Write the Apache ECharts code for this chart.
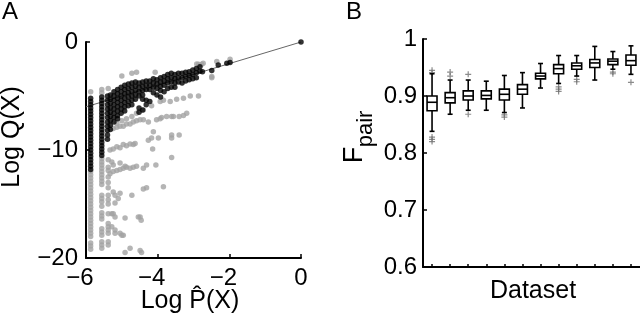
<!DOCTYPE html>
<html>
<head>
<meta charset="utf-8">
<script src="https://cdn.jsdelivr.net/npm/echarts@6/dist/echarts.min.js"></script>
<style>
html, body { margin: 0; padding: 0; background: #fff; }
#main { width: 640px; height: 318px; }
</style>
</head>
<body>
<div id="main"></div>
<script>
// ---- panel A: log Q(X) vs log P^(X) ----
var col1X = -5.87;
var col2X = -5.56;
var col1BlackY = [-5.2, -5.5, -5.8, -6.1, -6.4, -6.7, -7.0, -7.3, -7.6, -7.9, -8.2, -8.5, -8.8, -9.1, -9.4, -9.7, -10.0, -10.3, -10.6, -10.9, -11.2, -11.5, -11.8];
var col2BlackY = [-5.1, -5.4, -5.7, -6.0, -6.3, -6.6, -6.9, -7.2, -7.5, -7.8, -8.1, -8.4, -8.7, -9.0, -9.3, -9.6, -9.9, -10.2, -10.5];
var col1GrayY = [-4.6, -12.0, -12.3, -12.6, -12.9, -13.2, -13.5, -13.8, -14.1, -14.4, -14.7, -15.0, -15.3, -15.6, -15.9, -16.2, -16.5, -16.8, -17.1, -17.4, -17.7, -18.0, -18.6, -18.9, -19.2];
var col2GrayY = [-4.4, -4.7, -10.8, -11.1, -11.4, -11.7, -12.0, -12.3, -12.6, -12.9, -13.2, -14.2, -14.5, -14.8, -15.2, -15.8, -16.1, -16.4, -17.3, -17.6, -17.9, -18.5, -18.8, -19.1];

var blackPts = [
    [-5.40, -5.0], [-5.40, -5.4], [-5.40, -5.8], [-5.40, -6.2], [-5.40, -6.6], [-5.40, -7.0], [-5.40, -7.4], [-5.40, -7.8], [-5.40, -8.2], [-5.40, -8.6], [-5.40, -9.0],
    [-5.32, -4.9], [-5.32, -5.3], [-5.32, -5.7], [-5.32, -6.1], [-5.32, -6.5], [-5.32, -6.9], [-5.32, -7.3], [-5.32, -7.7], [-5.32, -8.1],
    [-5.22, -4.6], [-5.22, -5.0], [-5.22, -5.4], [-5.22, -5.8], [-5.22, -6.2], [-5.22, -6.6], [-5.22, -7.0], [-5.22, -7.4],
    [-5.12, -4.4], [-5.12, -4.8], [-5.12, -5.2], [-5.12, -5.6], [-5.12, -6.0], [-5.12, -6.4], [-5.12, -6.8], [-5.12, -7.1],
    [-5.02, -4.2], [-5.02, -4.6], [-5.02, -5.0], [-5.02, -5.4], [-5.02, -5.8], [-5.02, -6.2], [-5.02, -6.6],
    [-4.92, -4.0], [-4.92, -4.4], [-4.92, -4.8], [-4.92, -5.2], [-4.92, -5.6], [-4.92, -6.0], [-4.92, -6.4],
    [-4.82, -3.9], [-4.82, -4.3], [-4.82, -4.7], [-4.82, -5.1], [-4.82, -5.5], [-4.82, -5.9],
    [-4.72, -3.8], [-4.72, -4.2], [-4.72, -4.6], [-4.72, -5.0], [-4.72, -5.4], [-4.72, -5.8],
    [-4.62, -3.7], [-4.62, -4.1], [-4.62, -4.5], [-4.62, -4.9], [-4.62, -5.3],
    [-4.52, -3.8], [-4.52, -4.2], [-4.52, -4.6], [-4.52, -5.0], [-4.52, -6.1], [-4.52, -6.5],
    [-4.42, -3.7], [-4.42, -4.1], [-4.42, -4.5], [-4.42, -4.9], [-4.42, -5.3], [-4.42, -6.3],
    [-4.32, -3.6], [-4.32, -4.0], [-4.32, -4.4], [-4.32, -5.4], [-4.32, -5.8],
    [-4.22, -3.6], [-4.22, -4.0], [-4.22, -4.4], [-4.22, -5.5],
    [-4.12, -3.4], [-4.12, -3.8], [-4.12, -4.2], [-4.12, -4.7],
    [-4.02, -3.5], [-4.02, -3.9], [-4.02, -4.3], [-4.02, -4.9],
    [-3.92, -3.3], [-3.92, -3.7], [-3.92, -4.1], [-3.92, -4.5], [-3.92, -5.1],
    [-3.82, -3.2], [-3.82, -3.6], [-3.82, -4.0], [-3.82, -4.6],
    [-3.72, -3.0], [-3.72, -3.4], [-3.72, -3.8], [-3.72, -4.3],
    [-3.62, -2.9], [-3.62, -3.3], [-3.62, -3.7], [-3.62, -4.2],
    [-3.52, -3.0], [-3.52, -3.4], [-3.52, -3.8], [-3.52, -4.2],
    [-3.42, -2.9], [-3.42, -3.3], [-3.42, -3.7],
    [-3.32, -2.9], [-3.32, -3.3], [-3.32, -3.8],
    [-3.22, -2.8], [-3.22, -3.2], [-3.22, -3.6],
    [-3.12, -2.75], [-3.12, -3.1], [-3.12, -3.5],
    [-3.02, -2.6], [-3.02, -3.0], [-3.02, -3.4],
    [-2.92, -2.45], [-2.92, -2.85], [-2.92, -3.3],
    [-2.82, -2.3], [-2.82, -2.7],
    [-2.75, -2.75], [-2.49, -2.65], [-2.31, -2.13], [-2.07, -1.97], [-1.98, -1.9],
    [0, 0]
];

var grayPts = [
    // above the black band
    [-5.38, -4.3], [-5.0, -3.15], [-4.72, -2.9], [-4.59, -2.8], [-4.07, -2.8],
    [-2.91, -2.04], [-2.86, -2.07], [-2.77, -2.07], [-2.73, -1.97], [-2.35, -1.8], [-1.98, -1.6],
    [-2.49, -3.2], [-2.49, -3.3],
    // band just below the black band
    [-5.14, -7.5], [-5.0, -7.3], [-4.87, -7.1], [-4.72, -6.9], [-4.59, -6.6], [-4.40, -6.3], [-4.17, -5.9],
    [-3.93, -5.5], [-3.84, -5.4], [-3.65, -5.5], [-3.47, -5.3], [-3.28, -5.2], [-3.09, -5.0], [-2.86, -5.0],
    // second band
    [-5.24, -8.0], [-5.14, -7.9], [-5.05, -7.8], [-4.96, -7.8], [-4.87, -7.6], [-4.77, -7.6], [-4.68, -7.4],
    [-4.59, -7.3], [-4.49, -7.2], [-4.40, -7.2], [-4.26, -7.4], [-4.03, -7.2], [-3.93, -7.1], [-3.89, -7.0],
    [-3.75, -6.9], [-3.61, -6.9], [-3.56, -6.9], [-3.40, -6.9], [-3.28, -6.8], [-3.19, -6.6],
    [-4.12, -8.3], [-4.26, -9.1], [-3.98, -8.9], [-3.61, -8.6], [-3.61, -8.9], [-3.40, -8.6],
    [-4.14, -9.9], [-3.61, -10.7],
    // third band
    [-5.33, -10.0], [-5.24, -9.9], [-5.14, -9.7], [-5.05, -9.8], [-4.96, -9.5], [-4.87, -9.6],
    [-4.77, -9.45], [-4.68, -9.5], [-4.63, -9.4], [-4.17, -8.9],
    // fourth band
    [-5.33, -12.2], [-5.24, -12.0], [-5.14, -11.9], [-5.05, -11.8], [-4.96, -11.7], [-4.87, -11.6],
    [-4.77, -11.7], [-4.68, -11.6], [-4.59, -11.5], [-4.40, -11.7], [-4.31, -11.4], [-4.05, -11.4],
    [-5.28, -11.1], [-5.24, -11.4], [-5.05, -11.2], [-4.91, -11.5],
    [-3.84, -13.4], [-4.40, -13.6], [-4.31, -13.5],
    // lower bands
    [-5.24, -13.9], [-5.10, -14.5], [-5.19, -14.9], [-5.19, -14.2], [-5.05, -14.0], [-4.72, -14.2],
    [-5.28, -15.9], [-5.24, -15.9], [-5.19, -16.2], [-4.91, -16.3], [-4.54, -16.2], [-4.49, -16.2], [-4.46, -16.5],
    [-5.28, -17.1], [-5.19, -17.4], [-5.19, -17.7], [-5.05, -17.7], [-5.0, -17.9], [-4.96, -17.9],
    [-4.91, -19.5], [-4.77, -19.1], [-4.49, -19.3], [-4.45, -19.5],
    // third sub-column
    [-5.38, -10.9], [-5.38, -11.6], [-5.38, -11.9], [-5.38, -12.5], [-5.38, -13.0], [-5.38, -13.5],
    [-5.38, -14.2], [-5.38, -14.6], [-5.38, -15.0], [-5.38, -15.9], [-5.38, -16.8], [-5.38, -17.1],
    [-5.38, -17.4], [-5.38, -17.7], [-5.38, -18.5], [-5.38, -18.8]
];

// ---- panel B: F_pair per dataset ----
var datasets = ['1', '2', '3', '4', '5', '6', '7', '8', '9', '10', '11', '12'];
var boxLow = [0.838, 0.868, 0.875, 0.875, 0.871, 0.879, 0.914, 0.922, 0.935, 0.928, 0.947, 0.938];
var boxQ1 = [0.874, 0.888, 0.893, 0.895, 0.893, 0.903, 0.930, 0.939, 0.947, 0.950, 0.955, 0.954];
var boxMed = [0.889, 0.897, 0.900, 0.901, 0.903, 0.912, 0.935, 0.948, 0.953, 0.958, 0.961, 0.962];
var boxQ3 = [0.900, 0.906, 0.909, 0.909, 0.912, 0.920, 0.940, 0.955, 0.958, 0.964, 0.965, 0.972];
var boxHigh = [0.939, 0.928, 0.928, 0.926, 0.936, 0.941, 0.957, 0.971, 0.971, 0.987, 0.978, 0.988];
var outliers = [
    [0, 0.945], [0, 0.941], [0, 0.828], [0, 0.824], [0, 0.820],
    [1, 0.942], [1, 0.935],
    [2, 0.938], [2, 0.868],
    [4, 0.867], [4, 0.863],
    [7, 0.916], [7, 0.912], [7, 0.908],
    [8, 0.929], [8, 0.925],
    [10, 0.942], [10, 0.939],
    [11, 0.924]
];

var FONT = '"Liberation Sans", Arial, Helvetica, sans-serif';

var allBlack = [];
col1BlackY.forEach(function (y) { allBlack.push([col1X, y]); });
col2BlackY.forEach(function (y) { allBlack.push([col2X, y]); });
allBlack = allBlack.concat(blackPts);

var allGray = [];
col1GrayY.forEach(function (y) { allGray.push([col1X, y]); });
col2GrayY.forEach(function (y) { allGray.push([col2X, y]); });
allGray = allGray.concat(grayPts);

var boxData = datasets.map(function (d, i) {
    return [i, boxLow[i], boxQ1[i], boxMed[i], boxQ3[i], boxHigh[i]];
});

function minusLabel(v) {
    if (v < 0) {
        return '{n|\u2212' + Math.abs(v) + '}';
    }
    return String(v);
}

function renderBox(params, api) {
    var i = api.value(0);
    var lo = api.coord([i, api.value(1)]);
    var q1 = api.coord([i, api.value(2)]);
    var md = api.coord([i, api.value(3)]);
    var q3 = api.coord([i, api.value(4)]);
    var hi = api.coord([i, api.value(5)]);
    var bw = api.size([1, 0])[0] * 0.55;
    var cw = bw * 0.5;
    var x = lo[0];
    var st = { stroke: '#000', lineWidth: 1.6, fill: null };
    return {
        type: 'group',
        children: [
            { type: 'line', shape: { x1: x, y1: hi[1], x2: x, y2: q3[1] }, style: st },
            { type: 'line', shape: { x1: x, y1: q1[1], x2: x, y2: lo[1] }, style: st },
            { type: 'line', shape: { x1: x - cw / 2, y1: hi[1], x2: x + cw / 2, y2: hi[1] }, style: st },
            { type: 'line', shape: { x1: x - cw / 2, y1: lo[1], x2: x + cw / 2, y2: lo[1] }, style: st },
            { type: 'rect', shape: { x: x - bw / 2, y: q3[1], width: bw, height: q1[1] - q3[1] },
              style: { fill: '#fff', stroke: '#000', lineWidth: 1.6 } },
            { type: 'line', shape: { x1: x - bw / 2, y1: md[1], x2: x + bw / 2, y2: md[1] }, style: st }
        ]
    };
}

function axisLineStyle() {
    return { show: true, onZero: false, lineStyle: { color: '#000', width: 2 } };
}
function tickStyle(len) {
    return { show: true, inside: true, length: len, lineStyle: { color: '#000', width: 1.5 } };
}
var labelBase = { color: '#000', fontFamily: FONT, fontSize: 24 };

var option = {
    animation: false,
    backgroundColor: '#fff',
    grid: [
        { left: 86, top: 42, width: 215, height: 216 },
        { left: 423, top: 39, width: 217, height: 228 }
    ],
    xAxis: [{
        gridIndex: 0,
        type: 'value',
        min: -6,
        max: 0,
        interval: 2,
        axisLine: axisLineStyle(),
        axisTick: tickStyle(4),
        splitLine: { show: false },
        axisLabel: Object.assign({}, labelBase, {
            margin: 8,
            formatter: minusLabel,
            rich: { n: { fontFamily: FONT, fontSize: 24, color: '#000', padding: [0, 12, 0, 0] } }
        })
    }, {
        gridIndex: 1,
        type: 'category',
        data: datasets,
        boundaryGap: true,
        axisLine: axisLineStyle(),
        axisTick: { show: true, inside: true, length: 3, alignWithLabel: true, interval: 0, lineStyle: { color: '#000', width: 1.5 } },
        axisLabel: { show: false, interval: 0 },
        splitLine: { show: false }
    }],
    yAxis: [{
        gridIndex: 0,
        type: 'value',
        min: -20,
        max: 0,
        interval: 10,
        axisLine: axisLineStyle(),
        axisTick: tickStyle(4),
        splitLine: { show: false },
        axisLabel: Object.assign({}, labelBase, {
            margin: 8,
            formatter: function (v) { return v < 0 ? '\u2212' + Math.abs(v) : String(v); }
        })
    }, {
        gridIndex: 1,
        type: 'value',
        min: 0.6,
        max: 1,
        interval: 0.1,
        axisLine: axisLineStyle(),
        axisTick: tickStyle(4),
        splitLine: { show: false },
        axisLabel: Object.assign({}, labelBase, {
            margin: 6,
            formatter: function (v) { return String(+v.toFixed(1)); }
        })
    }],
    series: [{
        type: 'line',
        xAxisIndex: 0,
        yAxisIndex: 0,
        data: [[-6, -6], [0, 0]],
        showSymbol: false,
        silent: true,
        lineStyle: { color: '#666', width: 1 },
        z: 1
    }, {
        type: 'scatter',
        xAxisIndex: 0,
        yAxisIndex: 0,
        data: allGray,
        symbolSize: 5.5,
        itemStyle: { color: '#a3a3a3' },
        z: 2
    }, {
        type: 'scatter',
        xAxisIndex: 0,
        yAxisIndex: 0,
        data: allBlack,
        symbolSize: 5.5,
        itemStyle: { color: '#000' },
        z: 3
    }, {
        type: 'custom',
        xAxisIndex: 1,
        yAxisIndex: 1,
        data: boxData,
        encode: { x: 0, y: [1, 2, 3, 4, 5] },
        renderItem: renderBox,
        z: 3
    }, {
        type: 'scatter',
        xAxisIndex: 1,
        yAxisIndex: 1,
        data: outliers,
        symbol: 'path://M2,0H3V2H5V3H3V5H2V3H0V2H2Z',
        symbolSize: 6,
        itemStyle: { color: '#6e6e6e' },
        z: 2
    }],
    graphic: [
        { type: 'text', x: 2, y: 0, style: { text: 'A', fontFamily: FONT, fontSize: 24, fill: '#000' } },
        { type: 'text', x: 346, y: 0, style: { text: 'B', fontFamily: FONT, fontSize: 24, fill: '#000' } },
        { type: 'text', x: 12, y: 137, rotation: Math.PI / 2,
          style: { text: 'Log Q(X)', fontFamily: FONT, fontSize: 25, fill: '#000', align: 'center', verticalAlign: 'middle' } },
        { type: 'text', x: 190, y: 301,
          style: { text: 'Log P\u0302(X)', fontFamily: FONT, fontSize: 25, fill: '#000', align: 'center', verticalAlign: 'middle' } },
        { type: 'text', x: 355, y: 155, rotation: Math.PI / 2,
          style: { text: 'F', fontFamily: FONT, fontSize: 27, fill: '#000', align: 'center', verticalAlign: 'middle' } },
        { type: 'text', x: 366, y: 129, rotation: Math.PI / 2,
          style: { text: 'pair', fontFamily: FONT, fontSize: 22, fill: '#000', align: 'center', verticalAlign: 'middle' } },
        { type: 'text', x: 533, y: 291,
          style: { text: 'Dataset', fontFamily: FONT, fontSize: 25, fill: '#000', align: 'center', verticalAlign: 'middle' } }
    ]
};

var chart = echarts.init(document.getElementById('main'));
chart.setOption(option);
</script>
</body>
</html>
